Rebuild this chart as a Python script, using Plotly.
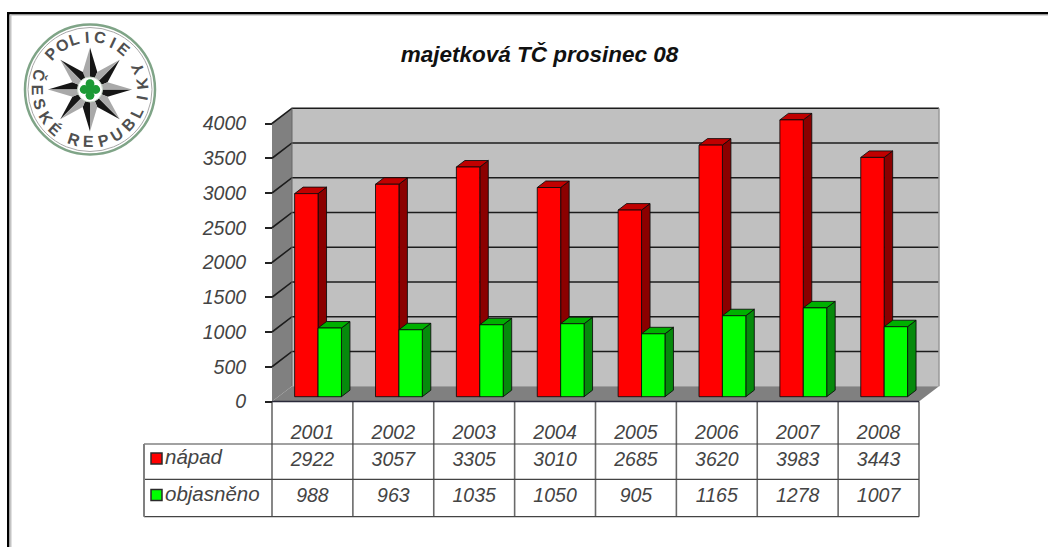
import math
import plotly.graph_objects as go

# ---- data ----
years = ["2001", "2002", "2003", "2004", "2005", "2006", "2007", "2008"]
napad = [2922, 3057, 3305, 3010, 2685, 3620, 3983, 3443]
objasneno = [988, 963, 1035, 1050, 905, 1165, 1278, 1007]
series_names = ["nápad", "objasněno"]
y_ticks = [0, 500, 1000, 1500, 2000, 2500, 3000, 3500, 4000]
title_text = "majetková TČ prosinec 08"

# ---- page geometry ----
W, H = 1048, 547
X0, CAT = 272.0, 80.875      # pixel of category 0, pixels per category
Y0, UNIT = 401.5, 0.0695     # pixel of value 0, pixels per value unit

def X(px): return (px - X0) / CAT
def Y(py): return (Y0 - py) / UNIT
def PX(px): return px / W
def PY(py): return 1 - py / H

WALL_DX, WALL_DY = 20 / CAT, 15.3 / UNIT
BAR_DX, BAR_DY = 8.5 / CAT, 6.5 / UNIT
BAR_W = 23.4 / CAT
BAR_SHIFT = 5.6 / CAT
BAR_BASE = 4.8 / UNIT
N = len(years)
FONT = "Liberation Sans"
TXT = "#444444"

fig = go.Figure()

def poly(xs, ys, fill, name, line="rgba(0,0,0,0)", lw=0):
    fig.add_trace(go.Scatter(x=xs, y=ys, mode="lines", fill="toself", fillcolor=fill,
                             line=dict(color=line, width=lw), name=name,
                             showlegend=False, hoverinfo="skip"))

def lines(xs, ys, color, width, name):
    fig.add_trace(go.Scatter(x=xs, y=ys, mode="lines", line=dict(color=color, width=width),
                             name=name, showlegend=False, hoverinfo="skip"))

top = y_ticks[-1]
# walls and floor
poly([WALL_DX, N + WALL_DX, N + WALL_DX, WALL_DX, WALL_DX],
     [WALL_DY, WALL_DY, top + WALL_DY, top + WALL_DY, WALL_DY], "#c0c0c0", "back wall")
poly([0, WALL_DX, WALL_DX, 0, 0], [0, WALL_DY, top + WALL_DY, top, 0], "#808080", "side wall")
poly([0, N, N + WALL_DX, WALL_DX, 0], [0, 0, WALL_DY, WALL_DY, 0], "#808080", "floor")

# gridlines
gx, gy = [], []
for v in y_ticks[1:]:
    gx += [0, WALL_DX, N + WALL_DX, None]
    gy += [v, v + WALL_DY, v + WALL_DY, None]
lines(gx, gy, "#1c1c1c", 1.6, "grid")
lines([N + WALL_DX, N + WALL_DX], [WALL_DY, top + WALL_DY], "#999999", 1.5, "wall edge")
lines([WALL_DX, WALL_DX], [WALL_DY, top + WALL_DY], "#666666", 1, "wall corner")

# 3-D bars
def bar_faces(values, index):
    fx, fy, sx, sy, tx, ty = [], [], [], [], [], []
    for i, v in enumerate(values):
        left = i + 0.5 + BAR_SHIFT + (index - 1) * BAR_W
        right = left + BAR_W
        b, t = BAR_BASE, BAR_BASE + v
        fx += [left, right, right, left, left, None]
        fy += [b, b, t, t, b, None]
        sx += [right, right + BAR_DX, right + BAR_DX, right, right, None]
        sy += [b, b + BAR_DY, t + BAR_DY, t, b, None]
        tx += [left, right, right + BAR_DX, left + BAR_DX, left, None]
        ty += [t, t, t + BAR_DY, t + BAR_DY, t, None]
    return fx, fy, sx, sy, tx, ty

edge = "rgba(10,10,10,0.85)"
for idx, (vals, name, front, side, topc) in enumerate([
        (napad, series_names[0], "#ff0000", "#8b0000", "#c00000"),
        (objasneno, series_names[1], "#00ff00", "#068a0c", "#00b000")]):
    fx, fy, sx, sy, tx, ty = bar_faces(vals, idx)
    poly(sx, sy, side, name + " side", edge, 1)
    poly(tx, ty, topc, name + " top", edge, 1)
    poly(fx, fy, front, name, edge, 1)

# data table
row1, row2, row3 = Y(444), Y(479.3), Y(516.7)
left_t = X(144)
vx, vy = [], []
for i in range(N + 1):
    vx += [i, i, None]
    vy += [0, row3, None]
lines(vx, vy, "#6a6a6a", 1.6, "table columns")
lines([left_t, N, None, left_t, N, None, left_t, N],
      [row1, row1, None, row2, row2, None, row3, row3], "#444444", 1.2, "table rows")
lines([left_t, left_t], [row1, row3], "#808080", 2, "table left")
lines([0, N], [0, 0], "#2a2a3a", 1.6, "base line")

centres = [i + 0.5 for i in range(N)]
cell_font = dict(family=FONT, size=19.5, color=TXT, style="italic")
for vals, py, name in [(napad, 461, series_names[0]), (objasneno, 497, series_names[1])]:
    fig.add_trace(go.Scatter(x=centres, y=[Y(py)] * N, text=[str(v) for v in vals],
                             mode="text", textposition="middle center", textfont=cell_font,
                             name=name + " values", showlegend=False, hoverinfo="skip"))

# row labels and legend keys
label_font = dict(family=FONT, size=20.5, color=TXT, style="italic")
fig.add_trace(go.Scatter(x=[X(165)] * 2, y=[Y(458.5), Y(496)], text=series_names, mode="text",
                         textposition="middle right", textfont=label_font,
                         name="row labels", showlegend=False, hoverinfo="skip"))
fig.add_trace(go.Scatter(x=[X(156.5)] * 2, y=[Y(458.5), Y(495)], mode="markers",
                         marker=dict(symbol="square", size=11, color=["#ff0000", "#00ff00"],
                                     line=dict(color="#2a2a2a", width=1.5)),
                         name="legend keys", showlegend=False, hoverinfo="skip"))

# ---- decoration: frame and police badge ----
shapes = [
    dict(type="rect", xref="paper", yref="paper", x0=PX(7), x1=1, y0=PY(12), y1=PY(14.5),
         fillcolor="#000000", line_width=0),
    dict(type="rect", xref="paper", yref="paper", x0=PX(7), x1=1, y0=PY(14.5), y1=PY(15.5),
         fillcolor="#b0b0b0", line_width=0),
    dict(type="rect", xref="paper", yref="paper", x0=PX(7), x1=PX(9.5), y0=PY(12), y1=0,
         fillcolor="#000000", line_width=0),
    dict(type="rect", xref="paper", yref="paper", x0=PX(9.5), x1=PX(11.5), y0=PY(14.5), y1=0,
         fillcolor="#c4c4c4", line_width=0),
]

LX, LY = 90.0, 89.5
def circle(r, fill="rgba(0,0,0,0)", line="#000", lw=1, cx=LX, cy=LY):
    return dict(type="circle", xref="paper", yref="paper",
                x0=PX(cx - r), x1=PX(cx + r), y0=PY(cy - r), y1=PY(cy + r),
                fillcolor=fill, line=dict(color=line, width=lw))

def tri(pts, fill):
    d = "M " + " L ".join(f"{PX(x):.5f},{PY(y):.5f}" for x, y in pts) + " Z"
    return dict(type="path", xref="paper", yref="paper", path=d, fillcolor=fill, line_width=0)

def pol(r, deg):
    a = math.radians(deg)
    return LX + r * math.sin(a), LY - r * math.cos(a)

shapes.append(circle(65, "#ffffff", "#7fa487", 2.5))
shapes.append(circle(62, "rgba(0,0,0,0)", "#a8a8a8", 1))
for k in range(8):
    deg = k * 45
    tip = pol(42, deg)
    shapes.append(tri([(LX, LY), tip, pol(19, deg + 22.5)], "#161616"))
    shapes.append(tri([(LX, LY), tip, pol(19, deg - 22.5)], "#a9a9a9"))
shapes.append(circle(12.5, "#ffffff", "#c8d8c8", 1))
for d in (0, 90, 180, 270):
    cx, cy = pol(5.8, d)
    shapes.append(circle(4.4, "#1c9a35", "#1c9a35", 0, cx, cy))
shapes.append(circle(3.5, "#1c9a35", "#1c9a35", 0))

ann = []
def letter(ch, deg, rot):
    x, y = pol(52.5, deg)
    ann.append(dict(text=ch, xref="paper", yref="paper", x=PX(x), y=PY(y), showarrow=False,
                    xanchor="center", yanchor="middle", textangle=rot,
                    font=dict(family=FONT, size=16, color="#505050", weight="bold")))

for i, ch in enumerate("POLICIE"):
    d = -47 + i * 14.5
    letter(ch, d, d)
for i, ch in enumerate("ČESKÉ"):
    d = 285 - i * 15.8
    letter(ch, d, d - 180)
for i, ch in enumerate("REPUBLIKY"):
    d = 198 - i * 16.4
    letter(ch, d, d - 180)

fig.update_layout(
    width=W, height=H, margin=dict(l=0, r=0, t=0, b=0),
    paper_bgcolor="#ffffff", plot_bgcolor="#ffffff",
    showlegend=False, shapes=shapes, annotations=ann,
    title=dict(text=title_text, x=539.5 / W, y=PY(54), xref="paper", yref="paper",
               xanchor="center", yanchor="middle",
               font=dict(family=FONT, size=22.5, color="#111111", weight="bold", style="italic")),
    xaxis=dict(range=[X(0), X(W)], showgrid=False, zeroline=False, showline=False,
               tickmode="array", tickvals=centres, ticktext=years, ticks="",
               anchor="free", position=PY(418),
               tickfont=cell_font),
    yaxis=dict(range=[Y(H), Y(0)], showgrid=False, zeroline=False, showline=False,
               tickmode="array", tickvals=y_ticks, ticktext=[str(v) for v in y_ticks],
               ticks="outside", ticklen=7, tickcolor="#222222", tickwidth=1.5,
               anchor="free", position=PX(X0), ticklabelstandoff=15,
               tickfont=cell_font),
)

fig.write_html("out.html", config={"displayModeBar": False},
               post_script="document.body.style.margin='0';document.body.style.overflow='hidden';")
